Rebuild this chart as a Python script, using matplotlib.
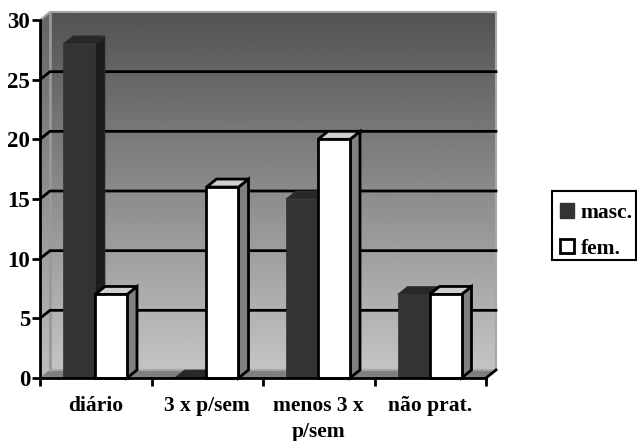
import matplotlib
matplotlib.use("Agg")
import matplotlib.pyplot as plt
import numpy as np
from matplotlib.patches import Polygon, Rectangle

categories = ["diário", "3 x p/sem", "menos 3 x\np/sem", "não prat."]
masc = [28, 0, 15, 7]
fem = [7, 16, 20, 7]
y_ticks = [0, 5, 10, 15, 20, 25, 30]

W, H = 637, 441
DX = 10 / 111.5
DY = 8 / 11.93
BAR_W = 32 / 111.5
BAR_OFF = 23 / 111.5

plt.rcParams["font.family"] = ["Liberation Serif", "DejaVu Serif"]
plt.rcParams["font.weight"] = "bold"

fig = plt.figure(figsize=(W / 100, H / 100), dpi=100)
ax = fig.add_axes([40 / W, 1 - 378 / H, 446 / W, 358 / H])
ax.set_xlim(0, 4)
ax.set_ylim(0, 30)
ax.patch.set_visible(False)
for name in ["top", "right"]:
    ax.spines[name].set_visible(False)
for name in ["left", "bottom"]:
    ax.spines[name].set_linewidth(2)
    ax.spines[name].set_zorder(20)


def gradient(poly, extent, top, bottom, z):
    grad = np.linspace(top, bottom, 256).reshape(-1, 1)
    im = ax.imshow(grad, extent=extent, aspect="auto", cmap="gray", vmin=0, vmax=255, zorder=z)
    patch = Polygon(poly, transform=ax.transData, fill=False, edgecolor="none", clip_on=False)
    ax.add_patch(patch)
    im.set_clip_box(fig.bbox)
    im.set_clip_path(patch)


# back wall and left wall
gradient([(DX, DY), (4 + DX, DY), (4 + DX, 30 + DY), (DX, 30 + DY)],
         (DX, 4 + DX, DY, 30 + DY), 82, 196, 1)
gradient([(0, 0), (DX, DY), (DX, 30 + DY), (0, 30)],
         (0, DX, 0, 30 + DY), 100, 190, 1)
ax.set_xlim(0, 4)
ax.set_ylim(0, 30)

# floor
ax.add_patch(Polygon([(0, 0), (4, 0), (4 + DX, DY), (DX, DY)],
                     facecolor="#808080", edgecolor="#808080", lw=0.5, zorder=2, clip_on=False))

# wall edges
ax.plot([DX, DX], [DY, 30 + DY], color="#999999", lw=2, zorder=2, clip_on=False)
ax.plot([0, DX, 4 + DX, 4 + DX], [30, 30 + DY, 30 + DY, DY], color="#a6a6a6", lw=1.5,
        zorder=2, clip_on=False)
ax.plot([DX, 4 + DX], [DY, DY], color="#a6a6a6", lw=1.5, zorder=2, clip_on=False)

# gridlines along back and left walls
for v in y_ticks[1:-1]:
    ax.plot([0, DX, 4 + DX], [v, v + DY, v + DY], color="black", lw=2, zorder=3, clip_on=False,
            solid_joinstyle="miter")
ax.plot([4, 4 + DX], [0, DY], color="black", lw=2, zorder=3, clip_on=False)


def bar3d(x, v, front, side, top, edge, lw, z):
    x2 = x + BAR_W
    ax.add_patch(Polygon([(x2, 0), (x2 + DX, DY), (x2 + DX, v + DY), (x2, v)],
                         facecolor=side, edgecolor=edge, lw=lw, zorder=z, clip_on=False,
                         joinstyle="miter"))
    ax.add_patch(Polygon([(x, v), (x2, v), (x2 + DX, v + DY), (x + DX, v + DY)],
                         facecolor=top, edgecolor=edge, lw=lw, zorder=z, clip_on=False,
                         joinstyle="miter"))
    ax.add_patch(Rectangle((x, 0), BAR_W, v, facecolor=front, edgecolor=edge, lw=lw, zorder=z,
                           clip_on=False, joinstyle="miter"))


for i, (m, f) in enumerate(zip(masc, fem)):
    x0 = i + BAR_OFF
    bar3d(x0, m, "#333333", "#1c1c1c", "#282828", "#333333", 0.5, 5 + i)
    bar3d(x0 + BAR_W, f, "#ffffff", "#808080", "#d0d0d0", "black", 2, 5 + i)

ax.set_xticks(range(5))
ax.set_xticklabels([])
ax.set_xticks(np.arange(4) + 0.5, categories, minor=True)
ax.tick_params(axis="x", which="major", length=6, width=2, direction="out")
ax.tick_params(axis="x", which="minor", length=0, pad=13, labelsize=15.5)
for label in ax.get_xticklabels(minor=True):
    label.set_linespacing(1.4)
ax.set_yticks(y_ticks)
ax.tick_params(axis="y", length=6, width=2, pad=1, labelsize=16.5)

# legend box drawn apart so its padding can differ per side
fig.add_artist(Rectangle((552 / W, 1 - 260 / H), 84 / W, 69 / H, transform=fig.transFigure,
                         facecolor="white", edgecolor="black", lw=1.5))
handles = [Rectangle((0, 0), 1, 1, facecolor="#333333", edgecolor="#333333"),
           Rectangle((0, 0), 1, 1, facecolor="white", edgecolor="black", lw=2)]
leg = fig.legend(handles, ["masc.", "fem."], loc="upper left",
                 bbox_to_anchor=(552 / W, 1 - 195.5 / H), borderaxespad=0, fontsize=15.5,
                 frameon=False, handlelength=0.68, handleheight=0.68, handletextpad=0.3,
                 labelspacing=0.72, borderpad=0.35)

fig.savefig("out.png", dpi=100)
